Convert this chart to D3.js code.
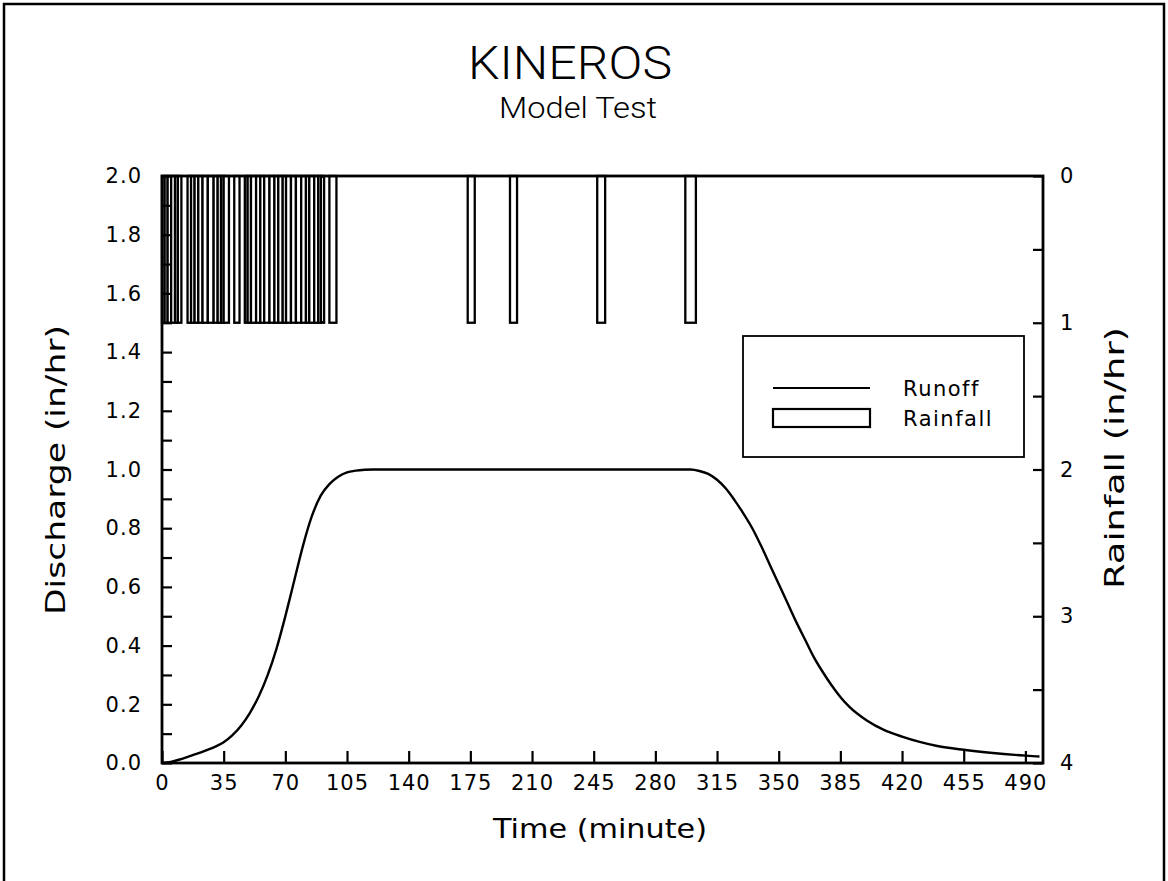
<!DOCTYPE html>
<html><head><meta charset="utf-8">
<script src="https://cdn.jsdelivr.net/npm/d3@7"></script>
<style>body{margin:0;background:#fff}svg{display:block}text{fill:#000}</style>
</head><body>
<svg id="c" width="1168" height="881"></svg>
<script>
// ---- data ----
const timeMin = [0,5,10,15,20,25,30,35,40,45,50,55,60,65,70,75,80,85,90,95,100,105,110,115,120,140,175,210,245,280,295,300,305,310,315,320,325,330,335,340,345,350,355,360,365,370,375,380,385,390,400,410,420,430,440,455,470,490,498];
const runoff  = [0,0.004,0.012,0.022,0.032,0.043,0.055,0.071,0.095,0.128,0.172,0.228,0.3,0.39,0.5,0.62,0.74,0.84,0.91,0.95,0.975,0.99,0.996,0.999,1.0,1.0,1.0,1.0,1.0,1.0,1.0,1.0,0.995,0.985,0.965,0.935,0.895,0.85,0.8,0.74,0.675,0.61,0.545,0.48,0.42,0.36,0.31,0.265,0.225,0.192,0.145,0.112,0.09,0.072,0.058,0.045,0.035,0.025,0.022];
const rainStart = [0,1.5,3.2,5.2,7.4,9,14.5,16.5,18.5,20.6,23,26,29.3,31.6,33.5,35,41,47,48.6,50.5,53.4,55.8,58,61,63.8,66,68.5,70.4,73.2,76,79,81.7,83.6,86.4,88.7,90.2,95,173.5,197.5,247,297];
const rainEnd   = [1.5,3.2,5.2,7.4,9,11,16.5,18.5,20.6,23,26,29.3,31.6,33.5,35,38,44,48.6,50.5,53.4,55.8,58,61,63.8,66,68.5,70.4,73.2,76,79,81.7,83.6,86.4,88.7,90.2,92,99,177.5,201.5,251.5,303];
const rainRate  = rainStart.map(() => 1);
const xTicks = [0,35,70,105,140,175,210,245,280,315,350,385,420,455,490];
const yTicks = d3.range(0, 21).map(i => i / 10);
const rTicks = d3.range(0, 9).map(i => i / 2);
const legendLabels = ["Runoff", "Rainfall"];

// ---- layout ----
const svg = d3.select("#c");
const L = 162, R = 1043, T = 176, B = 763;
const x = d3.scaleLinear().domain([0, 500]).range([L, R]);
const y = d3.scaleLinear().domain([0, 2]).range([B, T]);
const yr = d3.scaleLinear().domain([0, 4]).range([T, B]);
const FONT = "DejaVu Sans";

// outer border (top, left, right)
svg.append("path").attr("d", "M4,881 L4,4 L1164,4 L1164,881")
  .attr("fill", "none").attr("stroke", "#000").attr("stroke-width", 2.5);

// titles
svg.append("text").attr("x", 570).attr("y", 79).attr("text-anchor", "middle")
  .attr("font-family", "Roboto").attr("font-weight", 300).attr("font-size", 46)
  .attr("textLength", 204).attr("lengthAdjust", "spacingAndGlyphs").text("KINEROS");
svg.append("text").attr("x", 578).attr("y", 118).attr("text-anchor", "middle")
  .attr("font-family", "Roboto").attr("font-weight", 300).attr("font-size", 30)
  .attr("textLength", 158).attr("lengthAdjust", "spacingAndGlyphs").text("Model Test");

// rainfall bars
svg.append("g").selectAll("rect").data(rainStart).join("rect")
  .attr("x", (d) => x(d))
  .attr("y", yr(0))
  .attr("width", (d, i) => x(rainEnd[i]) - x(d))
  .attr("height", (d, i) => yr(rainRate[i]) - yr(0))
  .attr("fill", "#fff").attr("stroke", "#000").attr("stroke-width", 2.3);

// runoff line
const pts = timeMin.map((t, i) => [t, runoff[i]]);
svg.append("path").datum(pts)
  .attr("d", d3.line().x(d => x(d[0])).y(d => y(d[1])).curve(d3.curveMonotoneX))
  .attr("fill", "none").attr("stroke", "#000").attr("stroke-width", 2.4);

// axes
function styleAxis(g) {
  g.select(".domain").remove();
  g.selectAll(".tick line").attr("stroke", "#000").attr("stroke-width", 2.2);
  g.selectAll(".tick text").attr("font-family", FONT).attr("font-size", 21).attr("letter-spacing", 1);
}
svg.append("g").attr("transform", `translate(0,${B})`)
  .call(d3.axisBottom(x).tickValues(xTicks).tickSizeInner(-12).tickSizeOuter(0).tickPadding(12).tickFormat(d3.format("d")))
  .call(styleAxis);
svg.append("g").attr("transform", `translate(${L},0)`)
  .call(d3.axisLeft(y).tickValues(yTicks).tickSizeInner(-10).tickSizeOuter(0).tickPadding(20)
    .tickFormat(d => (Math.round(d * 10) % 2 === 0) ? d3.format(".1f")(d) : ""))
  .call(styleAxis);
svg.append("g").attr("transform", `translate(${R},0)`)
  .call(d3.axisRight(yr).tickValues(rTicks).tickSizeInner(-10).tickSizeOuter(0).tickPadding(17)
    .tickFormat(d => Number.isInteger(d) ? String(d) : ""))
  .call(styleAxis);

// plot frame
svg.append("rect").attr("x", L).attr("y", T).attr("width", R - L).attr("height", B - T)
  .attr("fill", "none").attr("stroke", "#000").attr("stroke-width", 2.8);

// axis titles
svg.append("text").attr("x", 600).attr("y", 838).attr("text-anchor", "middle")
  .attr("font-family", FONT).attr("font-size", 27)
  .attr("textLength", 214).attr("lengthAdjust", "spacingAndGlyphs").text("Time (minute)");
svg.append("text").attr("transform", "translate(65,470) rotate(-90)").attr("text-anchor", "middle")
  .attr("font-family", FONT).attr("font-size", 27)
  .attr("textLength", 290).attr("lengthAdjust", "spacingAndGlyphs").text("Discharge (in/hr)");
svg.append("text").attr("transform", "translate(1124,458) rotate(-90)").attr("text-anchor", "middle")
  .attr("font-family", FONT).attr("font-size", 27)
  .attr("textLength", 262).attr("lengthAdjust", "spacingAndGlyphs").text("Rainfall (in/hr)");

// legend
const lg = svg.append("g");
lg.append("rect").attr("x", 743).attr("y", 336).attr("width", 281).attr("height", 121)
  .attr("fill", "#fff").attr("stroke", "#000").attr("stroke-width", 1.8);
lg.append("line").attr("x1", 773).attr("x2", 870).attr("y1", 388).attr("y2", 388)
  .attr("stroke", "#000").attr("stroke-width", 2.2);
lg.append("rect").attr("x", 773).attr("y", 409).attr("width", 97).attr("height", 18)
  .attr("fill", "#fff").attr("stroke", "#000").attr("stroke-width", 2.2);
lg.selectAll("text.l").data(legendLabels).join("text").attr("class", "l")
  .attr("x", 903).attr("y", (d, i) => 396 + i * 30)
  .attr("font-family", FONT).attr("font-size", 21).attr("letter-spacing", 1.5).text(d => d);
</script>
</body></html>
